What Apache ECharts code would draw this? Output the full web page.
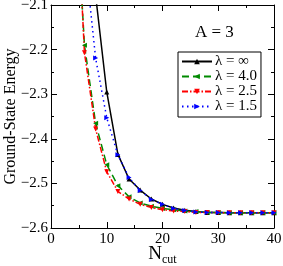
<!DOCTYPE html>
<html><head><meta charset="utf-8">
<script src="https://cdn.jsdelivr.net/npm/echarts@6/dist/echarts.min.js"></script>
<style>html,body{margin:0;padding:0;background:#fff}#c{width:283px;height:266px}</style>
</head><body><div id="c"></div>
<script>
const nInf = [8, 10, 12, 14, 16, 18, 20, 22, 24, 26, 28, 30, 32, 34, 36, 38, 40];
const eInf = [-2.078, -2.295, -2.435, -2.490, -2.515, -2.535, -2.547, -2.555, -2.560, -2.563, -2.565, -2.565, -2.566, -2.566, -2.566, -2.566, -2.566];
const n40 = [4, 6, 8, 10, 12, 14, 16, 18, 20, 22, 24, 26, 28, 30, 32, 34, 36, 38, 40];
const e40 = [-1.75, -2.19, -2.365, -2.458, -2.505, -2.530, -2.544, -2.551, -2.556, -2.559, -2.562, -2.563, -2.565, -2.565, -2.566, -2.566, -2.566, -2.566, -2.566];
const n25 = [4, 6, 8, 10, 12, 14, 16, 18, 20, 22, 24, 26, 28, 30, 32, 34, 36, 38, 40];
const e25 = [-1.70, -2.207, -2.378, -2.474, -2.518, -2.535, -2.547, -2.554, -2.559, -2.562, -2.563, -2.565, -2.565, -2.566, -2.566, -2.566, -2.566, -2.566, -2.566];
const n15 = [6, 8, 10, 12, 14, 16, 18, 20, 22, 24, 26, 28, 30, 32, 34, 36, 38, 40];
const e15 = [-1.98, -2.219, -2.353, -2.436, -2.487, -2.516, -2.536, -2.547, -2.556, -2.561, -2.564, -2.565, -2.565, -2.566, -2.566, -2.566, -2.566, -2.566];
const seriesNames = ['λ = ∞', 'λ = 4.0', 'λ = 2.5', 'λ = 1.5'];
const xTicks = [0, 10, 20, 30, 40];
const yTicks = [-2.6, -2.5, -2.4, -2.3, -2.2, -2.1];

const FONT = 'Liberation Serif';
const zip = (a, b) => a.map((v, i) => [v, b[i]]);
const chart = echarts.init(document.getElementById('c'), null, {renderer: 'canvas'});
const axisCommon = {
  axisLine: {show: true, onZero: false, lineStyle: {color: '#000', width: 1}},
  axisTick: {show: true, inside: true, length: 6, lineStyle: {color: '#000', width: 1}},
  minorTick: {show: true, splitNumber: 2, length: 3, lineStyle: {color: '#000', width: 1}},
  splitLine: {show: false}
};
function mk(name, data, color, lineType, symRot, symSize) {
  return {
    name: name, type: 'line', data: data, clip: true,
    lineStyle: {color: color, width: 1.5, type: lineType},
    itemStyle: {color: color},
    symbol: 'triangle', symbolSize: symSize, symbolRotate: symRot,
    showSymbol: true, animation: false
  };
}
chart.setOption({
  animation: false,
  grid: {left: 51, right: 9, top: 5, bottom: 38, containLabel: false, outerBoundsMode: 'none'},
  xAxis: [
    Object.assign({type: 'value', min: xTicks[0], max: xTicks[xTicks.length - 1], interval: 10,
      name: '{n|N}{s|cut}', nameLocation: 'middle', nameGap: 14, nameMoveOverlap: false,
      nameTextStyle: {rich: {n: {fontFamily: FONT, fontSize: 19, color: '#000'}, s: {fontFamily: FONT, fontSize: 12, color: '#000', padding: [12, 0, 0, 0]}}},
      axisLabel: {fontFamily: FONT, fontSize: 15, color: '#000', margin: 4}}, axisCommon),
    Object.assign({type: 'value', position: 'top', min: xTicks[0], max: xTicks[xTicks.length - 1], interval: 10,
      axisLabel: {show: false}}, axisCommon)
  ],
  yAxis: [
    Object.assign({type: 'value', min: yTicks[0], max: yTicks[yTicks.length - 1], interval: 0.1,
      name: 'Ground-State Energy', nameLocation: 'middle', nameGap: 32, nameMoveOverlap: false,
      nameTextStyle: {fontFamily: FONT, fontSize: 16, color: '#000'},
      axisLabel: {fontFamily: FONT, fontSize: 15, color: '#000', margin: 3,
        formatter: v => (v < 0 ? '\u2212' : '') + Math.abs(v).toFixed(1)}}, axisCommon),
    Object.assign({type: 'value', position: 'right', min: yTicks[0], max: yTicks[yTicks.length - 1], interval: 0.1,
      axisLabel: {show: false}}, axisCommon)
  ],
  legend: {
    orient: 'vertical', left: 178, top: 52, itemWidth: 30, itemHeight: 7, itemGap: 0,
    borderColor: '#000', borderWidth: 1, borderRadius: 0, padding: [2, 4, 3, 3],
    textStyle: {fontFamily: FONT, fontSize: 15, color: '#000', padding: [0, 0, 0, -2]},
    data: seriesNames
  },
  graphic: [{type: 'text', left: 195, top: 24, style: {text: 'A = 3', fontFamily: FONT, fontSize: 17, fill: '#000'}}],
  series: [
    mk(seriesNames[0], zip(nInf, eInf), '#000000', 'solid', 0, 5),
    mk(seriesNames[1], zip(n40, e40), '#008a00', [7, 4], 90, 5),
    mk(seriesNames[2], zip(n25, e25), '#ff0000', [6, 2, 1.5, 2], 180, 5),
    mk(seriesNames[3], zip(n15, e15), '#0000ff', [1.5, 3.5], -90, 5)
  ]
});
</script></body></html>
